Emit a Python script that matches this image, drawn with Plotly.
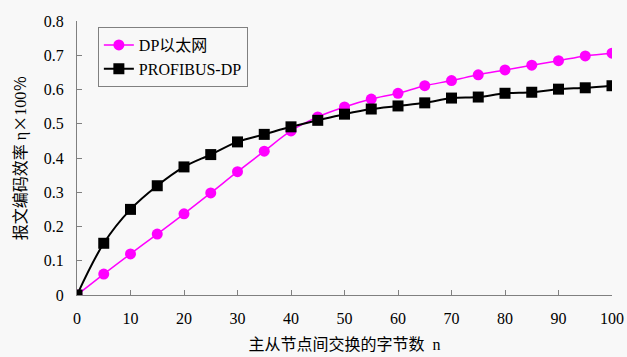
import plotly.graph_objects as go

n_bytes = [0, 5, 10, 15, 20, 25, 30, 35, 40, 45, 50, 55, 60, 65, 70, 75, 80, 85, 90, 95, 100]
dp_ethernet = [0, 0.061, 0.12, 0.178, 0.237, 0.298, 0.36, 0.42, 0.479, 0.52, 0.549, 0.572,
               0.589, 0.611, 0.626, 0.643, 0.657, 0.671, 0.684, 0.698, 0.706]
profibus_dp = [0, 0.151, 0.25, 0.319, 0.374, 0.41, 0.447, 0.469, 0.491, 0.51, 0.528, 0.543,
               0.552, 0.561, 0.575, 0.578, 0.589, 0.592, 0.601, 0.605, 0.611]

x_ticks = [0, 10, 20, 30, 40, 50, 60, 70, 80, 90, 100]
y_ticks = [0, 0.1, 0.2, 0.3, 0.4, 0.5, 0.6, 0.7, 0.8]
y_tick_labels = ["0", "0.1", "0.2", "0.3", "0.4", "0.5", "0.6", "0.7", "0.8"]

FONT = "Liberation Serif, Noto Sans CJK SC, serif"
BG = "#f8f8f8"

fig = go.Figure()
fig.add_trace(go.Scatter(
    x=n_bytes, y=dp_ethernet, name="DP以太网", mode="lines+markers",
    line=dict(color="#ff00ff", width=1.5, shape="spline"),
    marker=dict(symbol="circle", size=11, color="#ff00ff"),
))
fig.add_trace(go.Scatter(
    x=n_bytes, y=profibus_dp, name="PROFIBUS-DP", mode="lines+markers",
    line=dict(color="#000000", width=2, shape="spline"),
    marker=dict(symbol="square", size=11, color="#000000"),
))

y_title = ("报文编码效率 η<span style='font-family:Noto Sans CJK SC'>×</span>100"
           "<span style='font-family:Noto Sans CJK SC'>％</span>")

fig.update_layout(
    width=627, height=357,
    margin=dict(l=77, r=15, t=21, b=62, autoexpand=False),
    paper_bgcolor=BG, plot_bgcolor=BG,
    font=dict(family=FONT, size=16, color="#000000"),
    showlegend=True,
    legend=dict(
        x=0.039, y=0.978, xanchor="left", yanchor="top",
        bgcolor=BG, bordercolor="#808080", borderwidth=1,
        font=dict(family=FONT, size=16), tracegroupgap=0,
    ),
    xaxis=dict(
        range=[0, 100], tickvals=x_ticks, ticks="inside", ticklen=5, automargin=False,
        tickcolor="#808080", showline=True, linecolor="#808080", linewidth=1,
        showgrid=False, zeroline=False, tickfont=dict(size=16), ticklabelstandoff=9,
        title=dict(text="主从节点间交换的字节数  n", font=dict(size=16), standoff=12),
    ),
    yaxis=dict(
        range=[0, 0.8], tickvals=y_ticks, ticktext=y_tick_labels, ticks="inside", ticklen=5,
        automargin=False,
        tickcolor="#808080", showline=True, linecolor="#808080", linewidth=1,
        showgrid=False, zeroline=False, tickfont=dict(size=16), ticklabelstandoff=9,
        title=dict(text=y_title, font=dict(size=16), standoff=13),
    ),
)

fig.write_html(
    "out.html",
    config={"displayModeBar": False},
    post_script=("document.body.style.margin='0';document.body.style.overflow='hidden';"
                 "document.body.style.background='#f8f8f8';"),
)
